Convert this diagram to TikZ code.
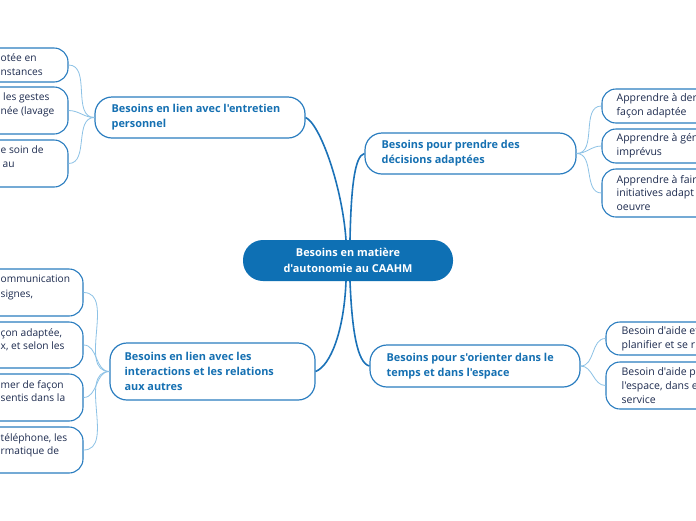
\documentclass[tikz,border=0pt]{standalone}
\usepackage{fontspec}
\setmainfont{Open Sans}[Ligatures=TeXOff]
\definecolor{centerfill}{HTML}{0E70B4}
\definecolor{boxblue}{HTML}{2A7DC0}
\definecolor{mainblue}{HTML}{1570B2}
\definecolor{leafink}{HTML}{1D2B4F}
\definecolor{trunkblue}{HTML}{1B72B8}
\definecolor{twigblue}{HTML}{8DC2E6}
\begin{document}
\begin{tikzpicture}[x=1pt,y=-1pt,
  centerbox/.style={fill=centerfill, draw=none, rounded corners=20pt, text=white,
    font=\fontsize{10.9}{15.5}\selectfont\bfseries, align=center,
    minimum width=210pt, minimum height=41pt, inner sep=0pt},
  mainbox/.style={draw=boxblue, line width=1.2pt, rounded corners=17pt, fill=white, inner sep=0pt},
  maintxt/.style={font=\fontsize{10.9}{15}\selectfont\bfseries, text=mainblue, align=left, inner sep=0pt, anchor=west},
  leafbox/.style={draw=boxblue, line width=1.1pt, rounded corners=14pt, fill=white, inner sep=0pt, minimum width=220pt},
  leaftxt/.style={font=\fontsize{10.5}{13.7}\selectfont, text=leafink, inner sep=0pt},
  cuttxt/.style={leaftxt, font=\fontsize{10.2}{13.7}\selectfont, anchor=base west},
  trunk/.style={draw=trunkblue, line width=1.6pt},
  twig/.style={draw=twigblue, line width=0.8pt}]
\useasboundingbox (0,0) rectangle (696,520);
\clip (0,0) rectangle (696,520);
\fill[white] (0,0) rectangle (696,520);

% central node
\node[centerbox] (c) at (348,260.5) {Besoins en matière\\d'autonomie au CAAHM};

% main nodes
\node[mainbox, minimum width=210pt, minimum height=41pt] (ul) at (200,117.5) {};
\node[maintxt] (ult) at ([xshift=17pt]ul.west) {Besoins en lien avec l'entretien\\personnel};
\node[mainbox, minimum width=211pt, minimum height=41pt] (ur) at (470.5,153.5) {};
\node[maintxt] (urt) at ([xshift=17pt]ur.west) {Besoins pour prendre des\\décisions adaptées};
\node[mainbox, minimum width=205pt, minimum height=57pt] (ll) at (212.5,371.5) {};
\node[maintxt] (llt) at ([xshift=15pt]ll.west) {Besoins en lien avec les\\interactions et les relations\\aux autres};
\node[mainbox, minimum width=210pt, minimum height=42pt] (lr) at (475,366) {};
\node[maintxt] (lrt) at ([xshift=17pt]lr.west) {Besoins pour s'orienter dans le\\temps et dans l'espace};

% upper-left leaves
\node[leafbox, minimum height=34pt] (a1) at (-42,65) {};
\node[leafbox, minimum height=47pt] (a2) at (-42,110.5) {};
\node[leafbox, minimum height=47pt] (a3) at (-42,163.5) {};
\node[cuttxt] (a1x) at (0.5,61.8) {otée en};
\node[cuttxt] (a1y) at (0.5,75.8) {nstances};
\node[cuttxt] (a2x) at (3,100.8) {les gestes};
\node[cuttxt] (a2y) at (0.5,114.8) {née (lavage};
\node[cuttxt] (a3x) at (0.5,153.8) {e soin de};
\node[cuttxt] (a3y) at (2.5,167.8) {au};

% lower-left leaves
\node[leafbox, minimum height=47pt] (b1) at (-27,292.5) {};
\node[leafbox, minimum height=46pt] (b2) at (-27,345) {};
\node[leafbox, minimum height=47pt] (b3) at (-27,397.5) {};
\node[leafbox, minimum height=46pt] (b4) at (-27,450) {};
\node[cuttxt] (b1x) at (0.5,282.8) {ommunication};
\node[cuttxt] (b1y) at (0.5,297.3) {signes,};
\node[cuttxt] (b2x) at (0.5,336.8) {çon adaptée,};
\node[cuttxt] (b2y) at (0.5,349.8) {x, et selon les};
\node[cuttxt] (b3x) at (0.5,388.8) {mer de façon};
\node[cuttxt] (b3y) at (0.5,401.8) {sentis dans la};
\node[cuttxt] (b4x) at (0.5,441.8) {téléphone, les};
\node[cuttxt] (b4y) at (0.5,454.8) {rmatique de};

% upper-right leaves
\node[leafbox, minimum height=34pt] (r1) at (712,106) {};
\node[leafbox, minimum height=34pt] (r2) at (712,146) {};
\node[leafbox, minimum height=48pt] (r3) at (712,193) {};
\node[leaftxt, anchor=west, align=left] (r1t) at ([xshift=15pt]r1.west) {Apprendre à der\\façon adaptée};
\node[leaftxt, anchor=west, align=left] (r2t) at ([xshift=15pt]r2.west) {Apprendre à gén\\imprévus};
\node[leaftxt, anchor=west, align=left] (r3t) at ([xshift=15pt]r3.west) {Apprendre à fair\\initiatives adapt\\oeuvre};

% lower-right leaves
\node[leafbox, minimum height=33pt] (s1) at (716,338.5) {};
\node[leafbox, minimum height=47pt] (s2) at (716,385.5) {};
\node[leaftxt, anchor=west, align=left] (s1t) at ([xshift=16pt]s1.west) {Besoin d'aide et\\planifier et se r};
\node[leaftxt, anchor=west, align=left] (s2t) at ([xshift=16pt]s2.west) {Besoin d'aide p\\l'espace, dans e\\service};

% trunk connectors
\draw[trunk] ([xshift=-2pt]c.north) .. controls +(-4,-55) and +(14,6) .. (ul.east);
\draw[trunk] ([xshift=2pt]c.north) .. controls +(1,-50) and +(-10,2) .. (ur.west);
\draw[trunk] ([xshift=-2pt]c.south) .. controls +(-2,50) and +(15,-6) .. (ll.east);
\draw[trunk] ([xshift=2pt]c.south) .. controls +(2,50) and +(-12,-3) .. (lr.west);

% twig connectors
\foreach \t in {a1,a2,a3} \draw[twig] (ul.west) to[out=180,in=0] (\t.east);
\foreach \t in {b1,b2,b3,b4} \draw[twig] (ll.west) to[out=180,in=0] (\t.east);
\foreach \t in {r1,r2,r3} \draw[twig] (ur.east) to[out=0,in=180] (\t.west);
\foreach \t in {s1,s2} \draw[twig] (lr.east) to[out=0,in=180] (\t.west);
\end{tikzpicture}
\end{document}
